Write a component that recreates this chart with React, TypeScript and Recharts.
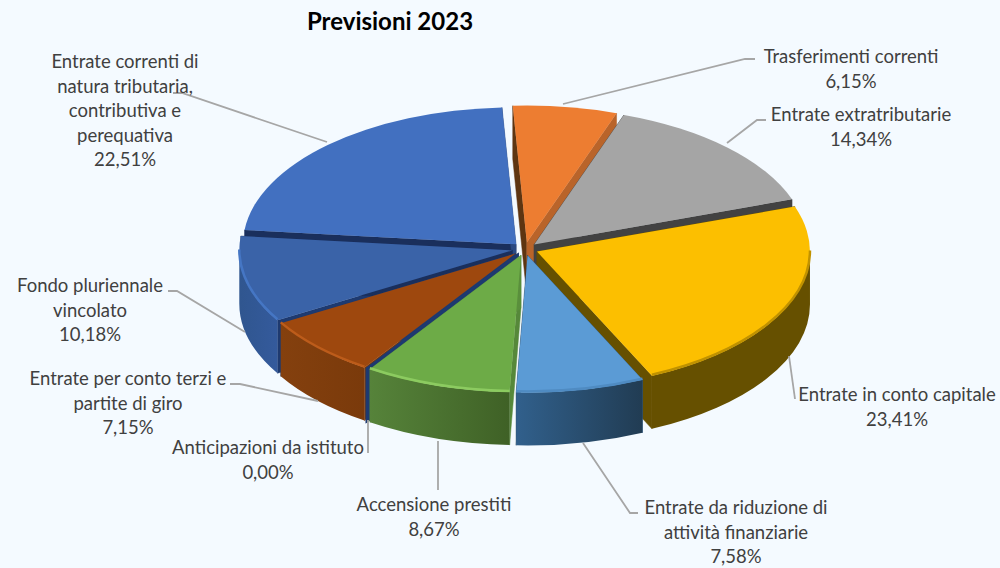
import { FC } from "react";
import { PieChart, Pie } from "recharts";

const categories = [
    "Entrate correnti di natura tributaria, contributiva e perequativa",
    "Trasferimenti correnti",
    "Entrate extratributarie",
    "Entrate in conto capitale",
    "Entrate da riduzione di attività finanziarie",
    "Accensione prestiti",
    "Anticipazioni da istituto",
    "Entrate per conto terzi e partite di giro",
    "Fondo pluriennale vincolato",
];
const values = [22.51, 6.15, 14.34, 23.41, 7.58, 8.67, 0, 7.15, 10.18];

const labelRows = [
    ["Entrate correnti di", "natura tributaria,", "contributiva e", "perequativa"],
    ["Trasferimenti correnti"],
    ["Entrate extratributarie"],
    ["Entrate in conto capitale"],
    ["Entrate da riduzione di", "attività finanziarie"],
    ["Accensione prestiti"],
    ["Anticipazioni da istituto"],
    ["Entrate per conto terzi e", "partite di giro"],
    ["Fondo pluriennale", "vincolato"],
];

const data = categories.map((categoria, i) => ({ categoria, valore: values[i] }));

// posizione delle etichette: centro x e y della prima riga
const labelPos = [
    [125, 62], [851, 57], [861, 115], [897, 395], [736, 508], [434, 505], [268, 448], [128, 379], [90, 286],
];
const leaderLines = [
    "173,93 182,93 327,142",
    "755,59 745,59 563,104",
    "766,120 757,120 727,143",
    "795,399 789,356",
    "638,513 630,513 583,443",
    "438,490 438,441",
    "368,453 368,420",
    "230,384 240,384 318,401",
    "168,291 177,291 245,332",
];

const topColors = ["#4270c0", "#ed7d31", "#a5a5a5", "#fcbf00", "#5b9bd5", "#6dab47", "#264478", "#9e480e", "#3a63a8"];
const rimColors = ["#4270c0", "#ed7d31", "#a5a5a5", "#c09200", "#4f8bc2", "#8ccb60", "#264478", "#bd5c1a", "#4576c4"];
const wallFrom = ["#2b4a82", "#b9642a", "#6a6a6a", "#665000", "#31608c", "#56833a", "#1e3a70", "#84400e", "#30568f"];
const wallTo = ["#2b4a82", "#b9642a", "#6a6a6a", "#665000", "#213c53", "#3f6126", "#1e3a70", "#7a3a0b", "#345a9c"];
const cutStart = ["#1a2f5c", "#5e3511", "#424242", "#665000", "#31608c", "#56883a", "#1e3a70", "#7a3a0b", "#1e3a70"];
const cutEnd = ["#2b4a82", "#b9642a", "#424242", "#665000", "#213c53", "#5a8f3c", "#1e3a70", "#1e3a70", "#1a2f5c"];

// ordine di disegno, dal fondo verso il davanti
const paintOrder = [1, 2, 0, 3, 8, 4, 7, 6, 5];

const CX = 525;
const CY = 249;
const RX = 273;
const TILT = 137 / 273;
const DEPTH = 53;
const EXPLODE = 13;

const rad = (a: number) => (a * Math.PI) / 180;

const Slice3D: FC<any> = ({ cx, cy, outerRadius, startAngle, endAngle, midAngle, index }) => {
    const ox = cx + EXPLODE * Math.cos(rad(midAngle));
    const oy = cy - EXPLODE * TILT * Math.sin(rad(midAngle));
    const ry = outerRadius * TILT;
    const pt = (a: number, drop = 0) =>
        `${ox + outerRadius * Math.cos(rad(a))} ${oy - ry * Math.sin(rad(a)) + drop}`;
    const arc = (sweep: number, large = 0) => `A ${outerRadius} ${ry} 0 ${large} ${sweep}`;
    const cut = (a: number) =>
        `M ${ox} ${oy} L ${pt(a)} L ${pt(a, DEPTH)} L ${ox} ${oy + DEPTH} Z`;

    const hi = Math.min(startAngle, 0);
    const lo = Math.max(endAngle, -180);
    const large = startAngle - endAngle > 180 ? 1 : 0;
    const gradId = `muro-${index}`;

    return (
        <g>
            <defs>
                <linearGradient id={gradId} x1="0" y1="0" x2="1" y2="0">
                    <stop offset="0%" stopColor={wallFrom[index]} />
                    <stop offset="100%" stopColor={wallTo[index]} />
                </linearGradient>
            </defs>
            <path d={cut(startAngle)} fill={cutStart[index]} stroke={cutStart[index]} strokeWidth={index === 6 ? 2 : 0.5} />
            <path d={cut(endAngle)} fill={cutEnd[index]} stroke={cutEnd[index]} strokeWidth={index === 6 ? 2 : 0.5} />
            {hi > lo && (
                <path
                    d={`M ${pt(hi)} ${arc(1)} ${pt(lo)} L ${pt(lo, DEPTH)} ${arc(0)} ${pt(hi, DEPTH)} Z`}
                    fill={`url(#${gradId})`}
                />
            )}
            {startAngle !== endAngle && (
                <path
                    d={`M ${ox} ${oy} L ${pt(startAngle)} ${arc(1, large)} ${pt(endAngle)} Z`}
                    fill={topColors[index]}
                />
            )}
            {hi > lo && startAngle !== endAngle && (
                <path d={`M ${pt(hi, -1)} ${arc(1)} ${pt(lo, -1)}`} fill="none" stroke={rimColors[index]} strokeWidth={2.5} />
            )}
        </g>
    );
};

const renderLabel = ({ index }: any) => {
    const [x, y] = labelPos[index];
    const rows = [...labelRows[index], values[index].toFixed(2).replace(".", ",") + "%"];
    return (
        <g key={index}>
            <polyline points={leaderLines[index]} fill="none" stroke="#a6a6a6" strokeWidth={1.8} />
            <text x={x} y={y} textAnchor="middle" fontFamily="Lato" fontSize={18.5} fill="#404040">
                {rows.map((row, i) => (
                    <tspan key={i} x={x} y={y + i * 24.5 + 6}>{row}</tspan>
                ))}
            </text>
        </g>
    );
};

const pieProps = {
    data,
    dataKey: "valore",
    nameKey: "categoria",
    cx: CX,
    cy: CY,
    outerRadius: RX,
    startAngle: 174,
    endAngle: -186,
    stroke: "none",
    isAnimationActive: false,
    labelLine: false,
};

export default function App() {
    return (
        <div style={{ position: "absolute", left: 0, top: 0, width: 1000, height: 568, background: "#f4faff" }}>
            <PieChart width={1000} height={568} margin={{ top: 0, right: 0, bottom: 0, left: 0 }}>
                <text x={390} y={30} textAnchor="middle" fontFamily="Lato" fontWeight="bold" fontSize={24} fill="#000">
                    Previsioni 2023
                </text>
                {paintOrder.map((slice) => (
                    <Pie
                        key={slice}
                        {...pieProps}
                        shape={(props: any) =>
                            props.categoria === categories[slice] ? <Slice3D {...props} index={slice} /> : <g />
                        }
                    />
                ))}
                <Pie {...pieProps} key="etichette" shape={() => <g />} label={renderLabel} />
            </PieChart>
        </div>
    );
}
